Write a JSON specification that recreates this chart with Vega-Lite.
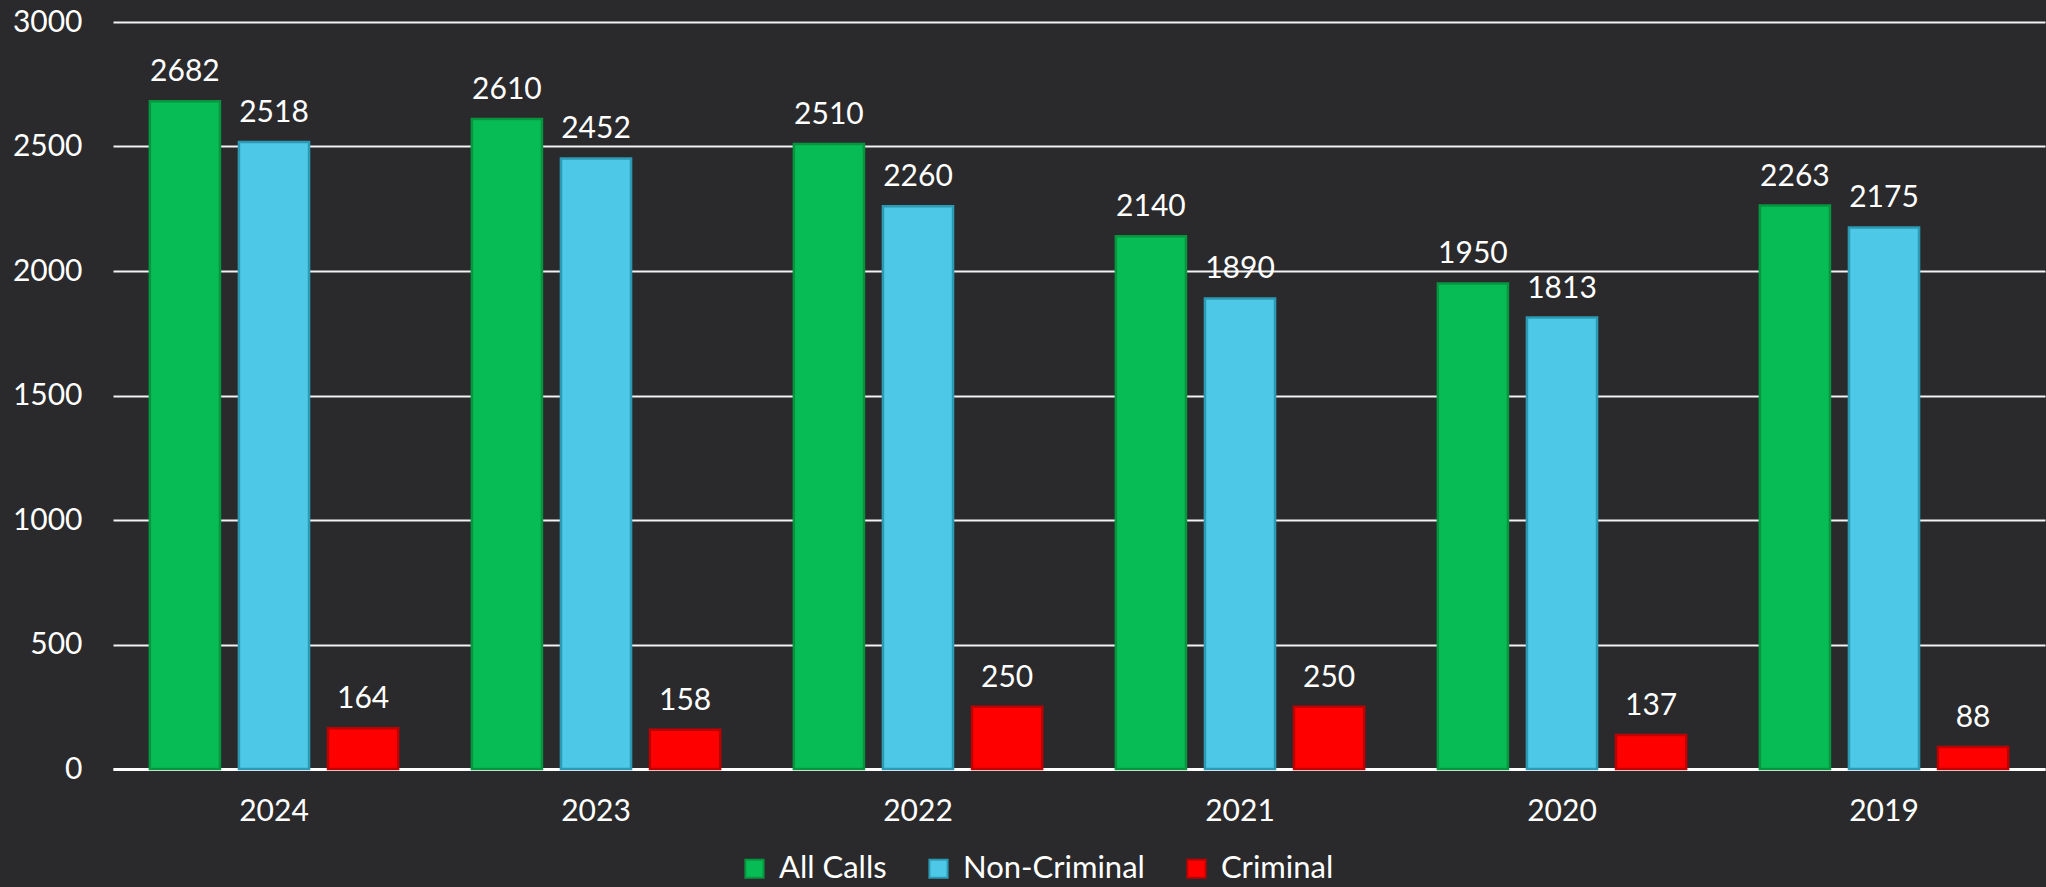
{
  "$schema": "https://vega.github.io/schema/vega-lite/v6.json",
  "autosize": {"type": "none"},
  "width": 1932,
  "height": 747,
  "padding": {"left": 113, "top": 22, "right": 1, "bottom": 118},
  "background": "#2a2a2c",
  "data": {
    "values": [
      {"year": "2024", "series": "All Calls", "calls": 2682},
      {"year": "2024", "series": "Non-Criminal", "calls": 2518},
      {"year": "2024", "series": "Criminal", "calls": 164},
      {"year": "2023", "series": "All Calls", "calls": 2610},
      {"year": "2023", "series": "Non-Criminal", "calls": 2452},
      {"year": "2023", "series": "Criminal", "calls": 158},
      {"year": "2022", "series": "All Calls", "calls": 2510},
      {"year": "2022", "series": "Non-Criminal", "calls": 2260},
      {"year": "2022", "series": "Criminal", "calls": 250},
      {"year": "2021", "series": "All Calls", "calls": 2140},
      {"year": "2021", "series": "Non-Criminal", "calls": 1890},
      {"year": "2021", "series": "Criminal", "calls": 250},
      {"year": "2020", "series": "All Calls", "calls": 1950},
      {"year": "2020", "series": "Non-Criminal", "calls": 1813},
      {"year": "2020", "series": "Criminal", "calls": 137},
      {"year": "2019", "series": "All Calls", "calls": 2263},
      {"year": "2019", "series": "Non-Criminal", "calls": 2175},
      {"year": "2019", "series": "Criminal", "calls": 88}
    ]
  },
  "encoding": {
    "x": {
      "field": "year", "type": "nominal", "sort": null,
      "scale": {"paddingInner": 0.17, "paddingOuter": 0.085},
      "axis": {"title": null, "labelAngle": 0, "labelFont": "Lato", "labelFontSize": 30, "labelColor": "#ffffff", "labelPadding": 27, "ticks": false, "domain": true, "domainColor": "#ffffff", "domainWidth": 3, "grid": false}
    },
    "xOffset": {
      "field": "series", "type": "nominal", "sort": ["All Calls", "Non-Criminal", "Criminal"],
      "scale": {"paddingInner": 0.213, "paddingOuter": 0.1065}
    },
    "y": {
      "field": "calls", "type": "quantitative",
      "scale": {"domain": [0, 3000], "nice": false},
      "axis": {"title": null, "format": "d", "values": [0, 500, 1000, 1500, 2000, 2500, 3000], "labelFont": "Lato", "labelFontSize": 30, "labelColor": "#ffffff", "labelPadding": 31, "ticks": false, "domain": false, "grid": true, "gridColor": "#f2f2f2", "gridWidth": 2, "gridOpacity": 1}
    }
  },
  "layer": [
    {
      "mark": {"type": "bar", "strokeWidth": 2.5},
      "encoding": {
        "fill": {
          "field": "series", "type": "nominal", "sort": ["All Calls", "Non-Criminal", "Criminal"],
          "scale": {"domain": ["All Calls", "Non-Criminal", "Criminal"], "range": ["#07BC54", "#4DC8E6", "#FF0000"]},
          "legend": {
            "title": null, "orient": "none", "direction": "horizontal",
            "legendX": 626, "legendY": 831,
            "labelFont": "Lato", "labelFontSize": 31, "labelColor": "#ffffff", "labelLimit": 400,
            "symbolType": "square", "symbolSize": 330, "labelOffset": 9, "columnPadding": 36,
            "symbolStrokeWidth": 2
          }
        },
        "stroke": {
          "field": "series", "type": "nominal", "sort": ["All Calls", "Non-Criminal", "Criminal"],
          "scale": {"domain": ["All Calls", "Non-Criminal", "Criminal"], "range": ["#07963F", "#2C9AB4", "#C00000"]},
          "legend": {
            "title": null, "orient": "none", "direction": "horizontal",
            "legendX": 626, "legendY": 831,
            "labelFont": "Lato", "labelFontSize": 31, "labelColor": "#ffffff", "labelLimit": 400,
            "symbolType": "square", "symbolSize": 330, "labelOffset": 9, "columnPadding": 36,
            "symbolStrokeWidth": 2
          }
        }
      }
    },
    {
      "mark": {"type": "text", "baseline": "alphabetic", "dy": -20, "font": "Lato", "fontSize": 30, "color": "#ffffff"},
      "encoding": {
        "text": {"field": "calls", "type": "quantitative"}
      }
    }
  ],
  "config": {
    "view": {"stroke": null}
  }
}
